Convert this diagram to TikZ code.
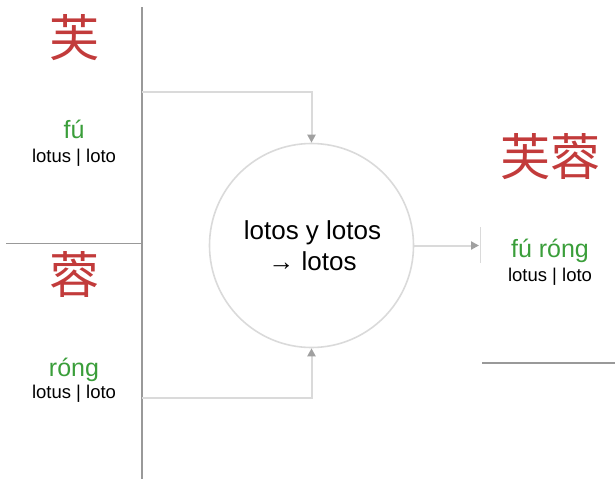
\documentclass[tikz,border=0pt]{standalone}
\usepackage{fontspec}
\setmainfont{Liberation Sans}
\newfontfamily\cjk{Noto Sans CJK SC}
\usetikzlibrary{arrows.meta}
\definecolor{hanred}{HTML}{C23B3B}
\definecolor{pygreen}{HTML}{3A9E3A}
\definecolor{rulegray}{HTML}{999999}
\definecolor{flowgray}{HTML}{DADADA}
\definecolor{tipgray}{HTML}{A0A0A0}
\begin{document}
\begin{tikzpicture}[x=1pt,y=-1pt,
  han/.style={inner sep=0pt,anchor=base,text=hanred,font=\cjk\fontsize{50}{50}\selectfont},
  pinyin/.style={inner sep=0pt,anchor=base,text=pygreen,font=\fontsize{25}{25}\selectfont},
  gloss/.style={inner sep=0pt,anchor=base,text=black,font=\fontsize{18.5}{18.5}\selectfont},
  rule/.style={draw=rulegray,line width=1.2pt},
  thickrule/.style={draw=rulegray,line width=2.2pt},
  flow/.style={draw=flowgray,line width=2pt,-{Triangle[length=8pt,width=8pt,fill=tipgray,color=tipgray]}},
  mix/.style={circle,draw=flowgray,line width=1.6pt,minimum size=204pt,inner sep=0pt,align=center,font=\fontsize{26}{31}\selectfont}
]
\useasboundingbox (0,0) rectangle (615,480);
% rules
\coordinate (vtop) at (142,7);
\coordinate (vt1) at (142,58);
\coordinate (vb1) at (142,433);
\coordinate (vbot) at (142,479);
\coordinate (hl) at (6,243.5);
\coordinate (hr) at (142,243.5);
\coordinate (rl) at (482,363);
\coordinate (rr) at (615,363);
\coordinate (tbar1) at (480.5,227);
\coordinate (tbar2) at (480.5,263);
\draw[thickrule] (vtop) -- (vt1);
\draw[rule] (vt1) -- (vb1);
\draw[thickrule] (vb1) -- (vbot);
\draw[rule,line width=1.5pt] (hl) -- (hr);
\draw[rule,line width=1.5pt] (rl) -- (rr);
\draw[draw=flowgray,line width=1.5pt] (tbar1) -- (tbar2);
% texts
\node[han] (c1) at (74.5,56) {芙};
\node[pinyin] (p1) at (74,138) {fú};
\node[gloss] (g1) at (74,162) {lotus | loto};
\node[han] (c2) at (74.5,293) {蓉};
\node[pinyin] (p2) at (74,376) {róng};
\node[gloss] (g2) at (74,398) {lotus | loto};
\node[han] (c3) at (550,175) {芙蓉};
\node[pinyin] (p3) at (550,257) {fú róng};
\node[gloss] (g3) at (550,281) {lotus | loto};
% circle
\node[mix] (circ) at (311.5,245.5) {};
\node[inner sep=0pt,anchor=base,font=\fontsize{26}{26}\selectfont] (m1) at (312.5,239) {lotos y lotos};
\node[inner sep=0pt,anchor=base,font=\fontsize{26}{26}\selectfont] (m2) at (312.5,270) {→ lotos};
% connectors
\coordinate (in1) at (142,92);
\coordinate (in2) at (142,398);
\coordinate (out) at (479,245.5);
\draw[flow] (in1) -| (circ.north);
\draw[flow] (in2) -| (circ.south);
\draw[flow] (circ.east) -- (out);
\end{tikzpicture}
\end{document}
